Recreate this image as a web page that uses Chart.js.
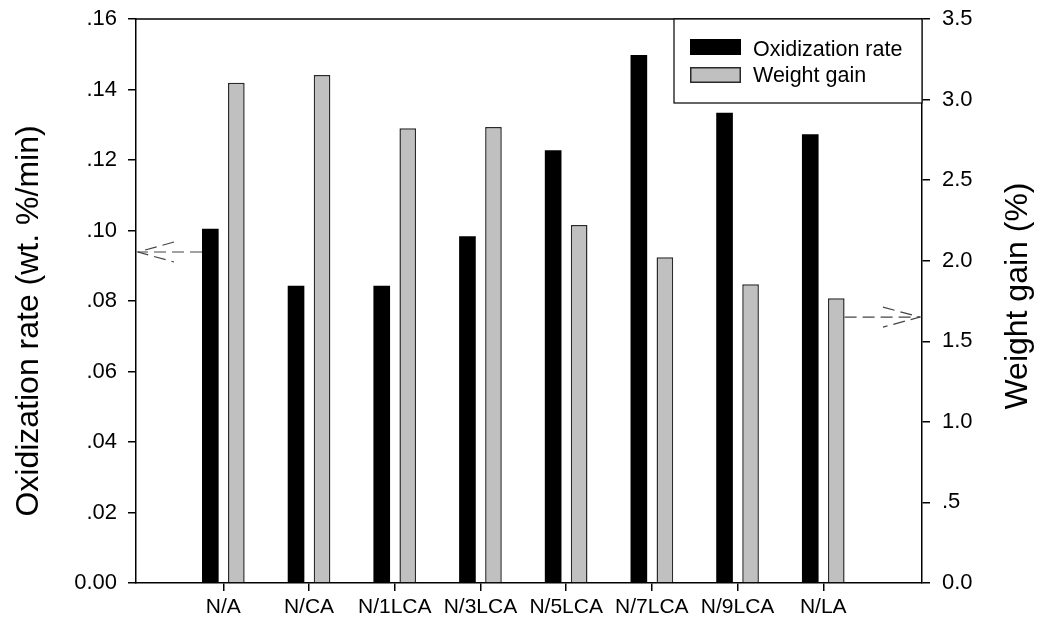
<!DOCTYPE html>
<html><head><meta charset="utf-8">
<script src="https://cdn.jsdelivr.net/npm/chart.js@4/dist/chart.umd.min.js"></script>
<style>html,body{margin:0;padding:0;background:#fff;} #wrap{width:1037px;height:626px;}</style>
</head><body><div id="wrap"><canvas id="c" width="1037" height="626"></canvas></div>
<script>
const categories = ['N/A','N/CA','N/1LCA','N/3LCA','N/5LCA','N/7LCA','N/9LCA','N/LA'];
const oxidizationRate = [0.1005, 0.0843, 0.0843, 0.0984, 0.1228, 0.1498, 0.1334, 0.1273];
const weightGain = [3.105, 3.153, 2.822, 2.830, 2.222, 2.021, 1.854, 1.767];
const leftTickLabels = ['0.00','.02','.04','.06','.08','.10','.12','.14','.16'];
const rightTickLabels = ['0.0','.5','1.0','1.5','2.0','2.5','3.0','3.5'];
const seriesNames = ['Oxidization rate','Weight gain'];
const axisTitles = ['Oxidization rate (wt. %/min)','Weight gain (%)'];
const arrowValues = [0.0939, 1.65];

const FONT = '"Liberation Sans", Arial, sans-serif';
Chart.defaults.font.family = FONT;
Chart.defaults.color = '#000';

const framePlugin = {
  id: 'frame',
  afterDraw(chart) {
    const {ctx, chartArea: a, scales} = chart;
    ctx.save();
    ctx.strokeStyle = '#000'; ctx.lineWidth = 1.5;
    ctx.beginPath(); ctx.moveTo(a.left, a.top); ctx.lineTo(a.right, a.top); ctx.stroke();

    // legend
    const lx = a.right - 248, ly = a.top, lw = 248, lh = 84;
    ctx.fillStyle = '#fff'; ctx.fillRect(lx, ly, lw, lh);
    ctx.lineWidth = 1.2; ctx.strokeStyle = '#000';
    ctx.strokeRect(lx, ly, lw, lh);
    const ds = chart.data.datasets;
    ctx.font = '21.5px ' + FONT; ctx.textBaseline = 'alphabetic'; ctx.textAlign = 'left';
    [[20, 37], [48, 63]].forEach((p, i) => {
      ctx.fillStyle = ds[i].backgroundColor;
      ctx.fillRect(lx + 16, ly + p[0], 51, 16);
      if (ds[i].borderWidth) {
        ctx.strokeStyle = ds[i].borderColor; ctx.lineWidth = 1.5;
        ctx.strokeRect(lx + 16.75, ly + p[0] + 0.75, 49.5, 14.5);
      }
      ctx.fillStyle = '#000';
      ctx.fillText(ds[i].label, lx + 79, ly + p[1]);
    });

    // arrows
    ctx.strokeStyle = '#444'; ctx.lineWidth = 1.2; ctx.setLineDash([12, 6]);
    const m0 = chart.getDatasetMeta(0).data[0];
    const yl = scales.y.getPixelForValue(arrowValues[0]);
    const tipL = a.left + 2;
    ctx.beginPath(); ctx.moveTo(m0.x - m0.width / 2, yl); ctx.lineTo(tipL, yl); ctx.stroke();
    ctx.beginPath(); ctx.moveTo(tipL + 36, yl - 10); ctx.lineTo(tipL, yl); ctx.lineTo(tipL + 36, yl + 10); ctx.stroke();
    const d1 = chart.getDatasetMeta(1).data;
    const m1 = d1[d1.length - 1];
    const yr = scales.y2.getPixelForValue(arrowValues[1]);
    const tipR = a.right - 2;
    ctx.beginPath(); ctx.moveTo(m1.x + m1.width / 2, yr); ctx.lineTo(tipR, yr); ctx.stroke();
    ctx.beginPath(); ctx.moveTo(tipR - 37, yr - 10); ctx.lineTo(tipR, yr); ctx.lineTo(tipR - 37, yr + 10); ctx.stroke();
    ctx.setLineDash([]);

    // axis titles (both read bottom-to-top)
    ctx.fillStyle = '#000'; ctx.font = '32px ' + FONT;
    ctx.textAlign = 'center'; ctx.textBaseline = 'middle';
    ctx.save(); ctx.translate(29, a.top + 302); ctx.rotate(-Math.PI / 2);
    ctx.fillText(axisTitles[0], 0, 0); ctx.restore();
    ctx.save(); ctx.translate(a.right + 96, a.top + 277); ctx.rotate(-Math.PI / 2);
    ctx.fillText(axisTitles[1], 0, 0); ctx.restore();
    ctx.restore();
  }
};

const gridOpts = {drawOnChartArea: false, drawTicks: true, tickLength: 8, color: '#000', lineWidth: 1.5, offset: false};
const borderOpts = {display: true, color: '#000', width: 1.5};
const fitY = w => s => { s.width = w; s.paddingTop = 0; s.paddingBottom = 0; };

new Chart(document.getElementById('c'), {
  type: 'bar',
  data: {
    datasets: [
      {label: seriesNames[0], data: oxidizationRate.map((v, i) => ({x: i, y: v})), yAxisID: 'y',
       backgroundColor: '#000000', borderWidth: 0},
      {label: seriesNames[1], data: weightGain.map((v, i) => ({x: i, y: v})), yAxisID: 'y2',
       backgroundColor: '#c0c0c0', borderColor: '#2a2a2a', borderWidth: 1.5}
    ]
  },
  options: {
    responsive: false, animation: false, devicePixelRatio: 1,
    categoryPercentage: 0.607, barPercentage: 0.64,
    layout: {padding: {top: 19, left: 0, right: 0, bottom: 0}},
    plugins: {legend: {display: false}, tooltip: {enabled: false}},
    scales: {
      x: {
        type: 'linear', position: 'bottom', min: -1.019, max: 8.152, offset: false,
        afterBuildTicks: s => { s.ticks = categories.map((_, i) => ({value: i})); },
        afterFit: s => { s.height = 43; s.paddingLeft = 0; s.paddingRight = 0; },
        ticks: {callback: (v) => categories[v] ?? '', font: {size: 21}, color: '#000', padding: 4,
                autoSkip: false, maxRotation: 0},
        grid: gridOpts, border: borderOpts
      },
      y: {
        position: 'left', min: 0, max: 0.16,
        afterFit: fitY(136),
        ticks: {stepSize: 0.02, callback: (v, i) => leftTickLabels[i], font: {size: 22}, color: '#000', padding: 11},
        grid: gridOpts, border: borderOpts
      },
      y2: {
        position: 'right', min: 0, max: 3.5,
        afterFit: fitY(115),
        ticks: {stepSize: 0.5, callback: (v, i) => rightTickLabels[i], font: {size: 22}, color: '#000', padding: 12},
        grid: gridOpts, border: borderOpts
      }
    }
  },
  plugins: [framePlugin]
});
</script>
</body></html>
